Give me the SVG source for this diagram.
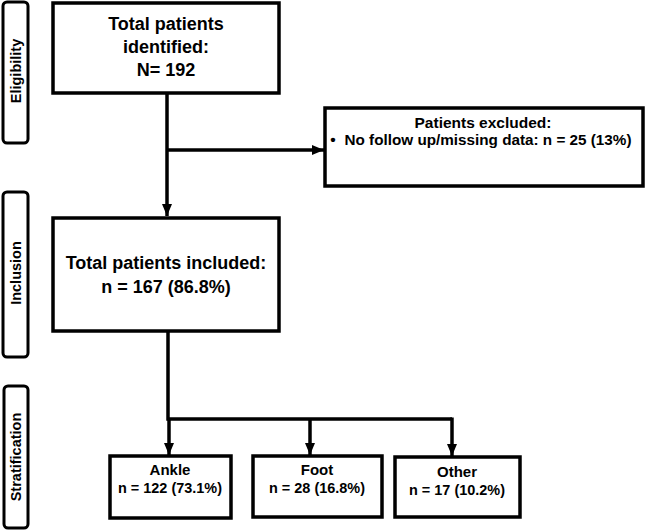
<svg xmlns="http://www.w3.org/2000/svg" width="645" height="531" viewBox="0 0 645 531">
<style>
.box{fill:#fff;stroke:#000;stroke-width:3.5}
.side{fill:#fff;stroke:#000;stroke-width:3}
.ln{fill:none;stroke:#000;stroke-width:3.5}
text{font-family:"Liberation Sans",Arial,sans-serif;font-weight:bold;fill:#000;text-anchor:middle}
.t18{font-size:18px}
.t15{font-size:15.5px}
.t14{font-size:15px}
.sl{font-size:14.5px;dominant-baseline:central}
</style>
<defs>
<marker id="ah" markerUnits="userSpaceOnUse" markerWidth="12" markerHeight="12" viewBox="0 0 12 12" refX="12" refY="6" orient="auto">
<path d="M0,1 L12,6 L0,11 Z" fill="#000"/>
</marker>
</defs>
<g id="label-eligibility">
<rect class="side" x="3" y="2" width="25" height="141" rx="4"/>
<text class="sl" transform="translate(16,71) rotate(-90)">Eligibility</text>
</g>
<g id="label-inclusion">
<rect class="side" x="3" y="192" width="25" height="165" rx="4"/>
<text class="sl" transform="translate(16,273) rotate(-90)">Inclusion</text>
</g>
<g id="label-stratification">
<rect class="side" x="4" y="386" width="24" height="142" rx="4"/>
<text class="sl" transform="translate(16,457) rotate(-90)">Stratification</text>
</g>
<g id="connectors">
<line class="ln" x1="167" y1="93" x2="167" y2="216" marker-end="url(#ah)"/>
<line class="ln" x1="167" y1="150" x2="324" y2="150" marker-end="url(#ah)"/>
<polyline class="ln" points="168,331 168,419 452,419"/>
<line class="ln" x1="169" y1="419" x2="169" y2="455" marker-end="url(#ah)"/>
<line class="ln" x1="310" y1="419" x2="310" y2="455" marker-end="url(#ah)"/>
<line class="ln" x1="452" y1="417.5" x2="452" y2="456" marker-end="url(#ah)"/>
</g>
<g id="node-identified">
<rect class="box" x="53" y="3" width="226" height="90"/>
<text class="t18" x="166" y="30">Total patients</text>
<text class="t18" x="166" y="53">identified:</text>
<text class="t18" x="166" y="76">N= 192</text>
</g>
<g id="node-excluded">
<rect class="box" x="325" y="108" width="318" height="78"/>
<text class="t15" x="483" y="128">Patients excluded:</text>
<text class="t15" x="333" y="145">•</text>
<text class="t15" x="488" y="145" textLength="287" lengthAdjust="spacingAndGlyphs">No follow up/missing data: n = 25 (13%)</text>
</g>
<g id="node-included">
<rect class="box" x="53" y="218" width="226" height="113"/>
<text class="t18" x="166" y="269">Total patients included:</text>
<text class="t18" x="166" y="293">n = 167 (86.8%)</text>
</g>
<g id="node-ankle">
<rect class="box" x="110" y="456" width="121" height="62"/>
<text class="t14" x="170" y="475">Ankle</text>
<text class="t14" x="170" y="493" textLength="104" lengthAdjust="spacingAndGlyphs">n = 122 (73.1%)</text>
</g>
<g id="node-foot">
<rect class="box" x="253" y="456" width="129" height="61"/>
<text class="t14" x="317" y="475">Foot</text>
<text class="t14" x="317" y="493" textLength="96" lengthAdjust="spacingAndGlyphs">n = 28 (16.8%)</text>
</g>
<g id="node-other">
<rect class="box" x="395" y="457" width="125" height="60"/>
<text class="t14" x="457" y="477">Other</text>
<text class="t14" x="457" y="495" textLength="96" lengthAdjust="spacingAndGlyphs">n = 17 (10.2%)</text>
</g>
</svg>
